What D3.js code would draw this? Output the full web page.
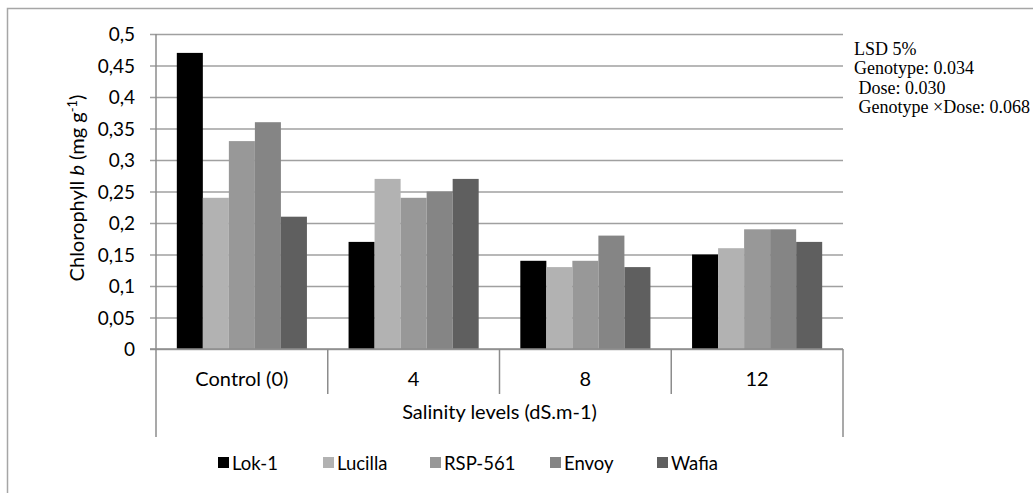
<!DOCTYPE html>
<html>
<head>
<meta charset="utf-8">
<script src="https://cdn.jsdelivr.net/npm/d3@7"></script>
<style>
  body { margin: 0; background: #fff; }
  svg { display: block; }
  .lbl { font-family: Lato, "Liberation Sans", sans-serif; fill: #000; }
  .lsd { font-family: "Liberation Serif", "DejaVu Serif", serif; font-size: 18px; fill: #000; }
</style>
</head>
<body>
<div id="chart"></div>
<script>
// salinity levels (categories)
var levels = ["Control (0)", "4", "8", "12"];
// genotypes (series)
var genotypes = ["Lok-1", "Lucilla", "RSP-561", "Envoy", "Wafia"];
// chlorophyll b per genotype, one value per salinity level
var lok1    = [0.47, 0.17, 0.14, 0.15];
var lucilla = [0.24, 0.27, 0.13, 0.16];
var rsp561  = [0.33, 0.24, 0.14, 0.19];
var envoy   = [0.36, 0.25, 0.18, 0.19];
var wafia   = [0.21, 0.27, 0.13, 0.17];
var yTicks = [0, 0.05, 0.1, 0.15, 0.2, 0.25, 0.3, 0.35, 0.4, 0.45, 0.5];
var lsdLines = ["LSD 5%", "Genotype: 0.034", " Dose: 0.030", " Genotype \u00d7Dose: 0.068"];

var seriesVals = [lok1, lucilla, rsp561, envoy, wafia];
var colors = ["#000000", "#b2b2b2", "#989898", "#858585", "#5f5f5f"];

var W = 1033, H = 493;
var margin = { top: 34, left: 156, right: 190, bottom: 144 };
var width = W - margin.left - margin.right,
    height = H - margin.top - margin.bottom;
var fs = "20px";

var svg = d3.select("#chart").append("svg")
    .attr("width", W)
    .attr("height", H);

// outer frame of the chart area
svg.append("rect")
    .attr("x", 7.5).attr("y", 8.5)
    .attr("width", W).attr("height", H)
    .attr("fill", "none")
    .attr("stroke", "#a6a6a6")
    .attr("stroke-width", 1.5);

var g = svg.append("g")
    .attr("transform", "translate(" + margin.left + "," + margin.top + ")");

var x0 = d3.scaleBand().domain(levels).range([0, width]).paddingInner(0).paddingOuter(0);
var x1 = d3.scaleBand().domain(genotypes).range([0, x0.bandwidth()]).paddingOuter(0.8).paddingInner(0);
var y = d3.scaleLinear().domain([0, 0.5]).range([height, 0]);

var fmt = function(d) { return String(+d.toFixed(2)).replace(".", ","); };

// gridlines + y axis
var yAxis = g.append("g")
    .call(d3.axisLeft(y).tickValues(yTicks).tickSize(-width).tickSizeOuter(0).tickPadding(21).tickFormat(fmt));
yAxis.select(".domain").remove();
yAxis.selectAll(".tick line")
    .attr("x1", -6)
    .attr("stroke", "#a0a0a0")
    .attr("stroke-width", 1.5);
yAxis.selectAll(".tick text")
    .attr("class", "lbl")
    .style("font-size", "19px")
    .attr("dy", "0.36em");

// bars
var groups = g.selectAll(".grp")
    .data(levels)
    .enter().append("g")
    .attr("transform", function(d) { return "translate(" + x0(d) + ",0)"; });

groups.selectAll("rect")
    .data(function(d, i) {
        return genotypes.map(function(gn, j) { return { key: gn, value: seriesVals[j][i], c: colors[j] }; });
    })
    .enter().append("rect")
    .attr("x", function(d) { return x1(d.key); })
    .attr("width", x1.bandwidth())
    .attr("y", function(d) { return y(d.value); })
    .attr("height", function(d) { return height - y(d.value); })
    .attr("fill", function(d) { return d.c; });

// left axis line (runs down through the category box)
var boxBottom = height + 88;
g.append("line")
    .attr("x1", 0).attr("x2", 0).attr("y1", 0).attr("y2", boxBottom)
    .attr("stroke", "#8c8c8c").attr("stroke-width", 1.5);
// base line
g.append("line")
    .attr("x1", -6).attr("x2", width).attr("y1", height).attr("y2", height)
    .attr("stroke", "#8c8c8c").attr("stroke-width", 1.5);
// right edge of category box
g.append("line")
    .attr("x1", width).attr("x2", width).attr("y1", height).attr("y2", boxBottom)
    .attr("stroke", "#8c8c8c").attr("stroke-width", 1.5);
// inner dividers between categories
g.selectAll(".div")
    .data(levels.slice(1))
    .enter().append("line")
    .attr("x1", function(d) { return x0(d); })
    .attr("x2", function(d) { return x0(d); })
    .attr("y1", height).attr("y2", height + 45)
    .attr("stroke", "#8c8c8c").attr("stroke-width", 1.5);

// category labels
g.selectAll(".cat")
    .data(levels)
    .enter().append("text")
    .attr("class", "lbl")
    .attr("x", function(d) { return x0(d) + x0.bandwidth() / 2; })
    .attr("y", height + 37)
    .attr("text-anchor", "middle")
    .style("font-size", fs)
    .text(function(d) { return d; });

// x axis title
g.append("text")
    .attr("class", "lbl")
    .attr("x", width / 2)
    .attr("y", height + 70)
    .attr("text-anchor", "middle")
    .style("font-size", fs)
    .text("Salinity levels (dS.m-1)");

// y axis title
var yt = svg.append("text")
    .attr("class", "lbl")
    .attr("transform", "translate(84,188) rotate(-90)")
    .attr("text-anchor", "middle")
    .style("font-size", fs);
yt.append("tspan").text("Chlorophyll ");
yt.append("tspan").style("font-style", "italic").text("b");
yt.append("tspan").text(" (mg g");
yt.append("tspan").attr("dy", -7).style("font-size", "13px").text("-1");
yt.append("tspan").attr("dy", 7).text(")");

// legend
var legX = [218, 323, 430, 550, 657];
var leg = svg.selectAll(".leg")
    .data(genotypes)
    .enter().append("g")
    .attr("transform", function(d, i) { return "translate(" + legX[i] + ",457)"; });
leg.append("rect")
    .attr("width", 11).attr("height", 11)
    .attr("fill", function(d, i) { return colors[i]; });
leg.append("text")
    .attr("class", "lbl")
    .attr("x", 14).attr("y", 13)
    .style("font-size", "18.5px")
    .text(function(d) { return d; });

// LSD note
svg.append("g").selectAll("text")
    .data(lsdLines)
    .enter().append("text")
    .attr("class", "lsd")
    .attr("x", 854)
    .attr("y", function(d, i) { return 55 + i * 19.3; })
    .attr("xml:space", "preserve")
    .style("white-space", "pre")
    .text(function(d) { return d; });
</script>
</body>
</html>
